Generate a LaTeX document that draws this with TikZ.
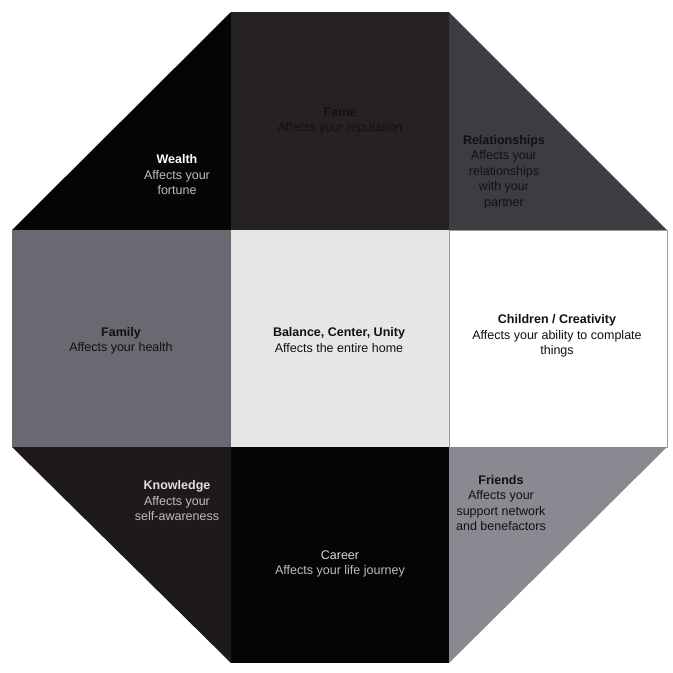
\documentclass[tikz,border=0pt]{standalone}
\usepackage{fontspec}
\setmainfont{Liberation Sans}
\usetikzlibrary{positioning}
\definecolor{inkblack}{HTML}{050505}
\definecolor{fameGray}{HTML}{262224}
\definecolor{relGray}{HTML}{3F3B43}
\definecolor{famGray}{HTML}{6A6870}
\definecolor{centerGray}{HTML}{E6E6E6}
\definecolor{edgeGray}{HTML}{9A9A9A}
\definecolor{knowGray}{HTML}{1E1A1C}
\definecolor{friendGray}{HTML}{8A8890}
\definecolor{darkText}{HTML}{111111}
\definecolor{lightText}{HTML}{BDBDBD}
\tikzset{
  cell/.style={draw=none},
  label/.style={align=center,inner sep=0pt,font=\fontsize{12.5}{15.5}\selectfont},
  darklabel/.style={label,text=darkText},
  lightlabel/.style={label,text=lightText}
}
\begin{document}
\begin{tikzpicture}[x=1pt,y=-1pt]
  \useasboundingbox (0,0) rectangle (673,673);

  % top row
  \fill[cell,inkblack] (231,12) -- (12,230) -- (231,230) -- cycle;
  \fill[cell,fameGray] (231,12) rectangle (449,230);
  \fill[cell,relGray] (449,12) -- (667,230) -- (449,230) -- cycle;

  % middle row
  \fill[cell,famGray] (12,230) rectangle (231,447);
  \fill[cell,centerGray] (231,230) rectangle (449,447);
  \filldraw[cell,fill=white,draw=edgeGray,line width=1pt] (449,230) rectangle (667,447);

  % bottom row
  \fill[cell,knowGray] (12,447) -- (231,447) -- (231,663) -- cycle;
  \fill[cell,inkblack] (231,447) rectangle (449,663);
  \fill[cell,friendGray] (449,447) -- (667,447) -- (449,663) -- cycle;

  \node[lightlabel] (wealth) at (177,175)
    {\textcolor{white}{\textbf{Wealth}}\\Affects your\\fortune};
  \node[darklabel] (fame) at (340,121)
    {\textbf{Fame}\\Affects your reputation};
  \node[darklabel] (rel) at (504,172)
    {\textbf{Relationships}\\Affects your\\relationships\\with your\\partner};

  \node[darklabel] (family) at (121,341)
    {\textbf{Family}\\Affects your health};
  \node[darklabel] (balance) at (339,340)
    {\textbf{Balance, Center, Unity}\\Affects the entire home};
  \node[darklabel] (children) at (557,336)
    {\textbf{Children / Creativity}\\Affects your ability to complate\\things};

  \node[lightlabel] (know) at (177,501)
    {\textcolor{white!88!black}{\textbf{Knowledge}}\\Affects your\\self-awareness};
  \node[lightlabel] (career) at (340,564)
    {\textcolor{white!85!black}{Career}\\Affects your life journey};
  \node[darklabel] (friends) at (501,503)
    {\textbf{Friends}\\Affects your\\support network\\and benefactors};
\end{tikzpicture}
\end{document}
